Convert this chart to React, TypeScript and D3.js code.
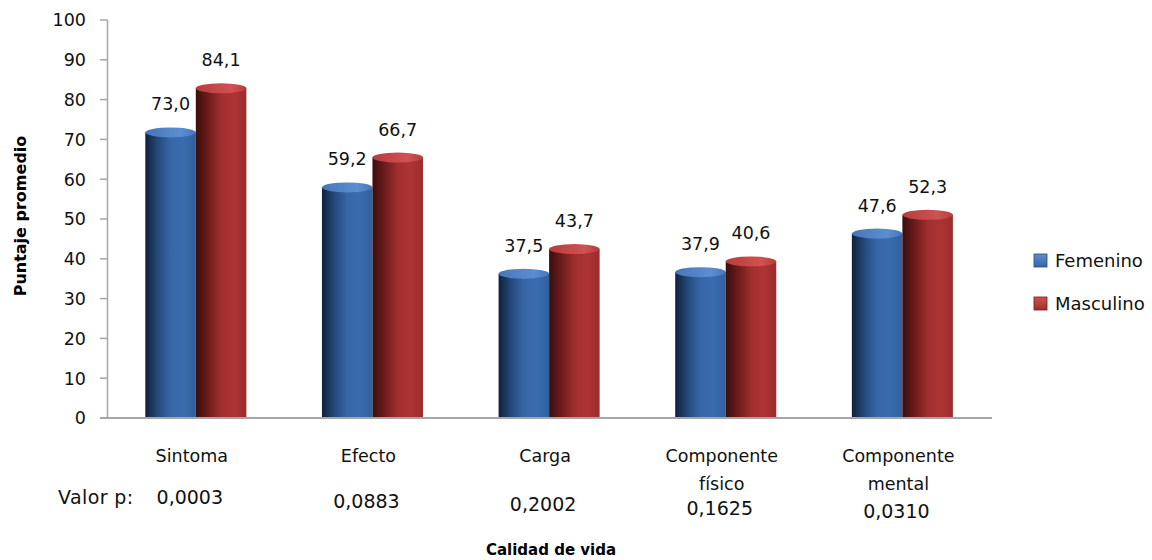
import React from "react";
import * as d3 from "d3";

const categories = ["Sintoma", "Efecto", "Carga", "Componente físico", "Componente mental"];
const seriesNames = ["Femenino", "Masculino"];
const femenino = [73.0, 59.2, 37.5, 37.9, 47.6];
const masculino = [84.1, 66.7, 43.7, 40.6, 52.3];
const pValues = ["0,0003", "0,0883", "0,2002", "0,1625", "0,0310"];
const yTicks = [0, 10, 20, 30, 40, 50, 60, 70, 80, 90, 100];

const W = 1152;
const H = 560;
const FONT = "'DejaVu Sans', Verdana, sans-serif";

const grads = [
  { id: "gBlue", stops: ["#10203a", "#244a7c", "#3766a6", "#3a6cae", "#30609e"], top: ["#4676b8", "#5b8ed2"] },
  { id: "gRed", stops: ["#3a0e0e", "#6e1c1c", "#a02e2e", "#ae3434", "#9c2c2c"], top: ["#b83c3c", "#d05252"] },
];

export default function App() {
  const x0 = d3.scaleBand<string>().domain(categories).range([107.5, 990.7]).paddingInner(0.428).paddingOuter(0.214);
  const x1 = d3.scaleBand<string>().domain(seriesNames).range([0, x0.bandwidth()]);
  const y = d3.scaleLinear().domain([0, 100]).range([418, 20]);
  const fmt = (v: number) => d3.format(".1f")(v).replace(".", ",");
  const series = [femenino, masculino];
  const ry = 5;

  return (
    <svg width={W} height={H} style={{ position: "absolute", left: 0, top: 0, background: "#fff" }} fontFamily={FONT}>
      <defs>
        {grads.map((g) => (
          <React.Fragment key={g.id}>
            <linearGradient id={g.id} x1="0" x2="1" y1="0" y2="0">
              {g.stops.map((c, i) => (
                <stop key={i} offset={`${(i / (g.stops.length - 1)) * 100}%`} stopColor={c} />
              ))}
            </linearGradient>
            <linearGradient id={g.id + "Top"} x1="0" x2="1" y1="0" y2="0">
              <stop offset="0%" stopColor={g.top[0]} />
              <stop offset="70%" stopColor={g.top[1]} />
              <stop offset="100%" stopColor={g.top[0]} />
            </linearGradient>
            <linearGradient id={g.id + "Leg"} x1="0" x2="0" y1="0" y2="1">
              <stop offset="0%" stopColor={g.top[1]} />
              <stop offset="100%" stopColor={g.stops[2]} />
            </linearGradient>
          </React.Fragment>
        ))}
      </defs>

      {/* Y axis */}
      <line x1={107.5} x2={107.5} y1={y(100)} y2={y(0)} stroke="#a6a6a6" strokeWidth={1.5} />
      {yTicks.map((t) => (
        <g key={t}>
          <line x1={100} x2={107.5} y1={y(t)} y2={y(t)} stroke="#a6a6a6" strokeWidth={1.5} />
          <text x={86} y={y(t)} dy="0.36em" textAnchor="end" fontSize={17.5} fill="#111">
            {t}
          </text>
        </g>
      ))}

      {/* Bars */}
      {categories.map((c, ci) => (
        <g key={c} transform={`translate(${x0(c)},0)`}>
          {seriesNames.map((s, si) => {
            const v = series[si][ci];
            const bx = x1(s)!;
            const bw = x1.bandwidth();
            const top = y(v);
            return (
              <g key={s}>
                <rect x={bx} y={top + ry} width={bw} height={y(0) - top - ry} fill={`url(#${grads[si].id})`} />
                <ellipse cx={bx + bw / 2} cy={top + ry} rx={bw / 2} ry={ry} fill={`url(#${grads[si].id}Top)`} />
                <text x={bx + bw / 2} y={top - 17} textAnchor="middle" fontSize={17.5} fill="#111">
                  {fmt(v)}
                </text>
              </g>
            );
          })}
        </g>
      ))}

      {/* X baseline */}
      <line x1={100} x2={992} y1={y(0)} y2={y(0)} stroke="#a6a6a6" strokeWidth={2} />

      {/* Category labels */}
      {categories.map((c) => {
        const cx = x0(c)! + x0.bandwidth() / 2 - 4;
        const lines = c.split(" ");
        return (
          <text key={c} x={cx} y={462} textAnchor="middle" fontSize={17.5} fill="#111">
            {lines.map((l, i) => (
              <tspan key={i} x={cx} dy={i === 0 ? 0 : 28}>
                {l}
              </tspan>
            ))}
          </text>
        );
      })}

      {/* p values */}
      <text x={58} y={504} fontSize={19} fill="#111" letterSpacing={0.4}>Valor p:</text>
      {categories.map((c, i) => (
        <text key={c} x={x0(c)! + x0.bandwidth() / 2 - 6} y={504 + i * 3.5} textAnchor="middle" fontSize={19} fill="#111">
          {pValues[i]}
        </text>
      ))}

      {/* Axis titles */}
      <text transform="translate(26,216) rotate(-90)" textAnchor="middle" fontSize={16} fontWeight="bold" fill="#000">
        Puntaje promedio
      </text>
      <text x={551} y={555} textAnchor="middle" fontSize={15} fontWeight="bold" fill="#000">
        Calidad de vida
      </text>

      {/* Legend */}
      {seriesNames.map((s, i) => (
        <g key={s} transform={`translate(1034,${254 + i * 43})`}>
          <rect x={0} y={0} width={13} height={13} fill={`url(#${grads[i].id}Leg)`} stroke={grads[i].stops[1]} strokeWidth={0.8} />
          <text x={21} y={13} fontSize={18} fill="#111">
            {s}
          </text>
        </g>
      ))}
    </svg>
  );
}
